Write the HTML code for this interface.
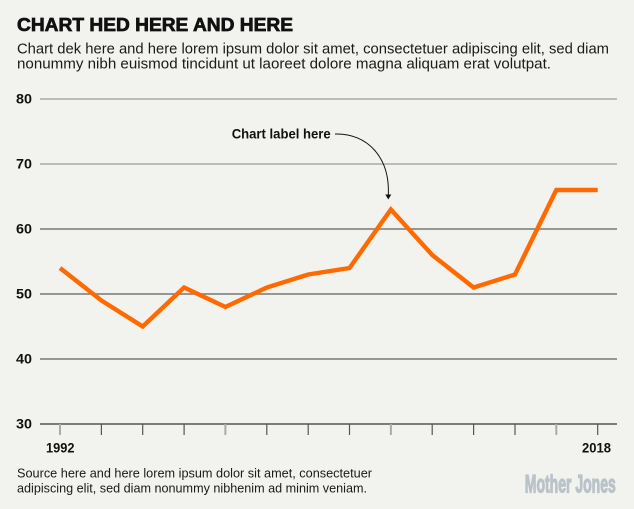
<!DOCTYPE html>
<html>
<head>
<meta charset="utf-8">
<style>
html,body{margin:0;padding:0;background:#f2f2ee;}
svg{display:block;}
text{font-family:"Liberation Sans",sans-serif;}
</style>
</head>
<body>
<svg width="634" height="509" viewBox="0 0 634 509" xmlns="http://www.w3.org/2000/svg">
<rect width="634" height="509" fill="#f2f2ee"/>
<text x="17" y="31" font-size="18" font-weight="bold" fill="#111" stroke="#111" stroke-width="0.7" textLength="276" lengthAdjust="spacingAndGlyphs">CHART HED HERE AND HERE</text>
<text x="17" y="53.5" font-size="14.5" fill="#1a1a1a" textLength="592" lengthAdjust="spacingAndGlyphs">Chart dek here and here lorem ipsum dolor sit amet, consectetuer adipiscing elit, sed diam</text>
<text x="17" y="68.5" font-size="14.5" fill="#1a1a1a" textLength="534" lengthAdjust="spacingAndGlyphs">nonummy nibh euismod tincidunt ut laoreet dolore magna aliquam erat volutpat.</text>

<!-- gridlines -->
<g stroke-width="1.5">
<line x1="40" y1="99" x2="617" y2="99" stroke="#aaaaaa"/>
<line x1="40" y1="164" x2="617" y2="164" stroke="#aaaaaa"/>
<line x1="40" y1="229" x2="617" y2="229" stroke="#777777"/>
<line x1="40" y1="294" x2="617" y2="294" stroke="#777777"/>
<line x1="40" y1="359" x2="617" y2="359" stroke="#777777"/>
<line x1="40" y1="424" x2="617" y2="424" stroke="#555555"/>
</g>
<g font-size="13.5" font-weight="bold" fill="#111">
<text x="16" y="103.7" textLength="16" lengthAdjust="spacingAndGlyphs">80</text>
<text x="16" y="168.7" textLength="16" lengthAdjust="spacingAndGlyphs">70</text>
<text x="16" y="233.7" textLength="16" lengthAdjust="spacingAndGlyphs">60</text>
<text x="16" y="298.7" textLength="16" lengthAdjust="spacingAndGlyphs">50</text>
<text x="16" y="363.7" textLength="16" lengthAdjust="spacingAndGlyphs">40</text>
<text x="16" y="428.7" textLength="16" lengthAdjust="spacingAndGlyphs">30</text>
</g>

<!-- ticks -->
<g stroke-width="1.2" stroke="#555">
<line x1="60" y1="424" x2="60" y2="435" stroke="#aaa" stroke-width="2"/>
<line x1="101.4" y1="424" x2="101.4" y2="435"/>
<line x1="142.7" y1="424" x2="142.7" y2="435"/>
<line x1="184.1" y1="424" x2="184.1" y2="435"/>
<line x1="225.4" y1="424" x2="225.4" y2="435" stroke="#aaa" stroke-width="2"/>
<line x1="266.8" y1="424" x2="266.8" y2="435"/>
<line x1="308.2" y1="424" x2="308.2" y2="435"/>
<line x1="349.5" y1="424" x2="349.5" y2="435"/>
<line x1="390.9" y1="424" x2="390.9" y2="435" stroke="#aaa" stroke-width="2"/>
<line x1="432.2" y1="424" x2="432.2" y2="435"/>
<line x1="473.6" y1="424" x2="473.6" y2="435"/>
<line x1="515" y1="424" x2="515" y2="435"/>
<line x1="556.3" y1="424" x2="556.3" y2="435" stroke="#aaa" stroke-width="2"/>
<line x1="597.7" y1="424" x2="597.7" y2="435"/>
</g>
<text x="46" y="452.3" font-size="13.5" font-weight="bold" fill="#111" textLength="28.5" lengthAdjust="spacingAndGlyphs">1992</text>
<text x="582" y="452.3" font-size="13.5" font-weight="bold" fill="#111" textLength="29" lengthAdjust="spacingAndGlyphs">2018</text>

<!-- series -->
<polyline fill="none" stroke="#ff6a00" stroke-width="4.4" stroke-linejoin="miter" stroke-linecap="butt"
points="60,268 101.36,300.5 142.72,326.5 184.08,287.5 225.44,307 266.8,287.5 308.16,274.5 349.52,268 390.88,209.5 432.24,255 473.6,287.5 514.96,274.5 556.32,190 597.68,190"/>

<!-- annotation -->
<text x="231.7" y="138.3" font-size="14" font-weight="bold" fill="#111" textLength="99" lengthAdjust="spacingAndGlyphs">Chart label here</text>
<path d="M335,134 C368,133 390,158 388.3,195" fill="none" stroke="#111" stroke-width="1"/>
<polygon points="385.3,194.5 391.3,194.5 388.3,199.5" fill="#111"/>

<!-- footer -->
<text x="17" y="477.7" font-size="13" fill="#1a1a1a" textLength="355" lengthAdjust="spacingAndGlyphs">Source here and here lorem ipsum dolor sit amet, consectetuer</text>
<text x="17" y="492.7" font-size="13" fill="#1a1a1a" textLength="350" lengthAdjust="spacingAndGlyphs">adipiscing elit, sed diam nonummy nibhenim ad minim veniam.</text>
<text x="524.8" y="492.3" font-size="25" font-weight="bold" fill="#b9c3c9" stroke="#b9c3c9" stroke-width="1.2" textLength="91" lengthAdjust="spacingAndGlyphs">Mother Jones</text>
</svg>
</body>
</html>
